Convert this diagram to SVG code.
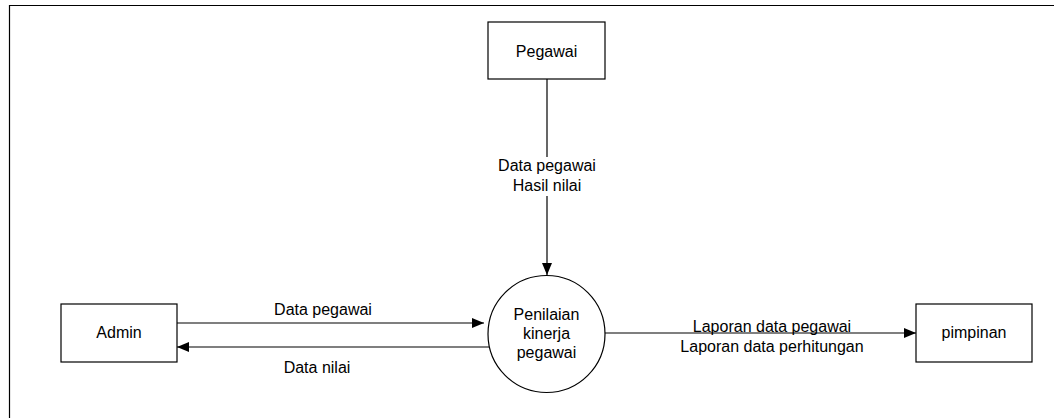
<svg xmlns="http://www.w3.org/2000/svg" width="1054" height="418" viewBox="0 0 1054 418">
<style>
.box{fill:#fff;stroke:#000;stroke-width:1.2}
.t{font-family:"Liberation Sans",Arial,sans-serif;font-size:16px;fill:#000;text-anchor:middle}
.c{stroke:#000;stroke-width:1.2;fill:none}
</style>
<defs>
<marker id="ah" viewBox="0 0 12 10" refX="12" refY="5" markerWidth="12" markerHeight="10" markerUnits="userSpaceOnUse" orient="auto">
<path d="M0,0 L12,5 L0,10 Z" fill="#000"/>
</marker>
</defs>
<rect width="1054" height="418" fill="#fff"/>
<path d="M9.5,418 V5.5 H1054" fill="none" stroke="#000" stroke-width="1.2"/>
<g id="connectors">
<line class="c" x1="547" y1="79" x2="547" y2="275" marker-end="url(#ah)"/>
<rect x="492" y="157" width="110" height="39" fill="#fff"/>
<text class="t" x="547" y="171">Data pegawai</text>
<text class="t" x="547" y="191">Hasil nilai</text>
<line class="c" x1="177" y1="323" x2="484" y2="323" marker-end="url(#ah)"/>
<text class="t" x="323" y="315">Data pegawai</text>
<line class="c" x1="489" y1="347" x2="177" y2="347" marker-end="url(#ah)"/>
<text class="t" x="317" y="373">Data nilai</text>
<line class="c" x1="605" y1="333" x2="916" y2="333" marker-end="url(#ah)"/>
<text class="t" x="772" y="332">Laporan data pegawai</text>
<text class="t" x="772" y="352">Laporan data perhitungan</text>
</g>
<g id="pegawai">
<rect class="box" x="488" y="22" width="117" height="57"/>
<text class="t" x="546.5" y="56.5">Pegawai</text>
</g>
<g id="admin">
<rect class="box" x="61" y="304" width="116" height="58"/>
<text class="t" x="119" y="338">Admin</text>
</g>
<g id="pimpinan">
<rect class="box" x="916" y="304" width="116" height="58"/>
<text class="t" x="974" y="338">pimpinan</text>
</g>
<g id="proses">
<circle class="box" cx="546.5" cy="334" r="58.5"/>
<text class="t" x="546.5" y="320">Penilaian</text>
<text class="t" x="546.5" y="339">kinerja</text>
<text class="t" x="546.5" y="358">pegawai</text>
</g>
</svg>
